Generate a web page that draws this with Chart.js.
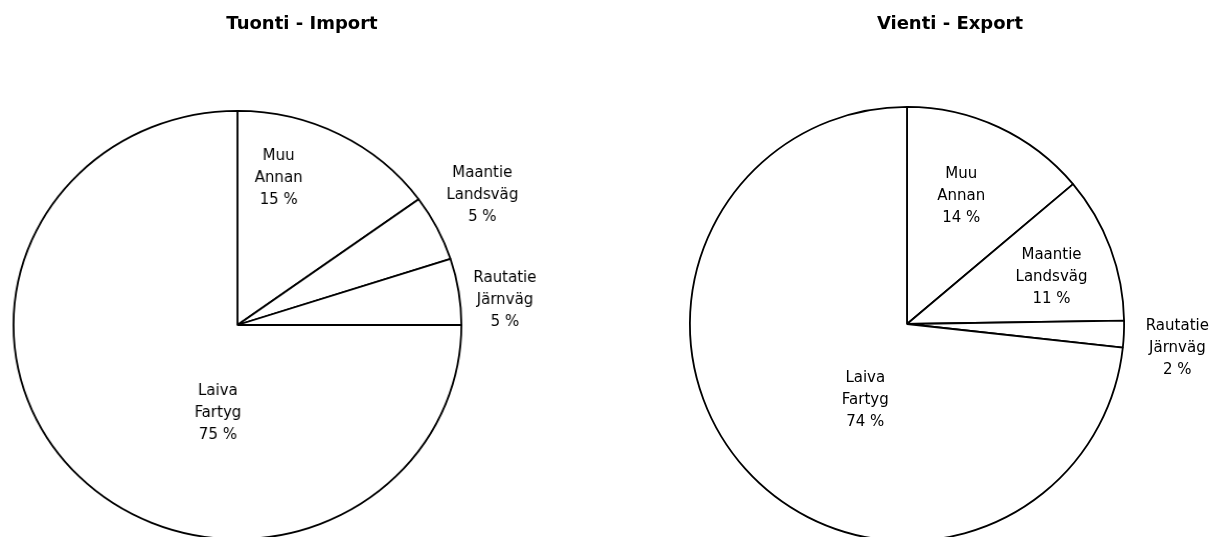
<!DOCTYPE html>
<html>
<head>
<meta charset="utf-8">
<script src="https://cdn.jsdelivr.net/npm/chart.js@4/dist/chart.umd.min.js"></script>
<style>
    html, body { margin: 0; padding: 0; background: #fff; overflow: hidden; }
    body { width: 1220px; height: 537px; position: relative; }
    .title {
        position: absolute; top: 12px; width: 300px; text-align: center;
        font: bold 18px "DejaVu Sans", sans-serif; color: #000;
    }
    .pie { position: absolute; top: 0; }
    #importWrap { left: 0; transform: scaleX(1.046); transform-origin: 0 0; }
    #exportWrap { left: 610px; }
</style>
</head>
<body>
<div class="pie" id="importWrap"><canvas id="importChart" width="560" height="560"></canvas></div>
<div class="pie" id="exportWrap"><canvas id="exportChart" width="610" height="560"></canvas></div>
<div class="title" id="importTitle" style="left:152px">Tuonti - Import</div>
<div class="title" id="exportTitle" style="left:800px">Vienti - Export</div>

<script>
// Data
const namesFi = ['Muu', 'Maantie', 'Rautatie', 'Laiva'];
const namesSv = ['Annan', 'Landsväg', 'Järnväg', 'Fartyg'];
const importShares = [15, 5, 5, 75];
const exportShares = [14, 11, 2, 74];

// label placement: [angle from 12 o'clock in degrees, fraction of radius]
const importLabelPos = [[15, 0.71], [61, 1.25], [84.5, 1.2], [192, 0.42]];
const exportLabelPos = [[23, 0.64], [72, 0.70], [95, 1.25], [208.7, 0.40]];

// --- Slice labels ---
const sliceLabels = {
    id: 'sliceLabels',
    afterDatasetsDraw(chart, args, opts) {
        const ctx = chart.ctx;
        const meta = chart.getDatasetMeta(0);
        const values = chart.data.datasets[0].data;
        ctx.save();
        ctx.font = '15px "DejaVu Sans", sans-serif';
        ctx.fillStyle = '#000';
        ctx.textAlign = 'center';
        ctx.textBaseline = 'middle';
        meta.data.forEach((arc, i) => {
            const [deg, frac] = opts.positions[i];
            const a = deg * Math.PI / 180;
            const x = arc.x + Math.sin(a) * arc.outerRadius * frac;
            const y = arc.y - Math.cos(a) * arc.outerRadius * frac;
            const lines = [namesFi[i], namesSv[i], values[i] + ' %'];
            ctx.save();
            ctx.translate(x, y);
            ctx.scale(1 / (opts.scaleX || 1), 1); // undo the wrapper stretch for text
            lines.forEach((t, j) => ctx.fillText(t, 0, (j - 1) * 22));
            ctx.restore();
        });
        ctx.restore();
    }
};

function makePie(id, values, positions, padding, scaleX) {
    const ctx = document.getElementById(id).getContext('2d');
    return new Chart(ctx, {
        type: 'pie',
        data: {
            labels: namesFi,
            datasets: [{
                data: values,
                backgroundColor: '#fff',
                borderColor: '#000',
                borderWidth: 1.8,
                hoverOffset: 0
            }]
        },
        options: {
            responsive: false,
            animation: false,
            devicePixelRatio: 1,
            layout: { padding: padding },
            plugins: {
                legend: { display: false },
                tooltip: { enabled: false },
                title: { display: false },
                sliceLabels: { positions: positions, scaleX: scaleX }
            }
        },
        plugins: [sliceLabels]
    });
}

// pie of radius 215 centred at canvas (227, 325), stretched 1.046 sideways
makePie('importChart', importShares, importLabelPos,
    { left: 12, top: 110, right: 118, bottom: 20 }, 1.046);
// pie of radius 218 centred at canvas (297, 324)
makePie('exportChart', exportShares, exportLabelPos,
    { left: 79, top: 106, right: 95, bottom: 18 }, 1);
</script>
</body>
</html>
